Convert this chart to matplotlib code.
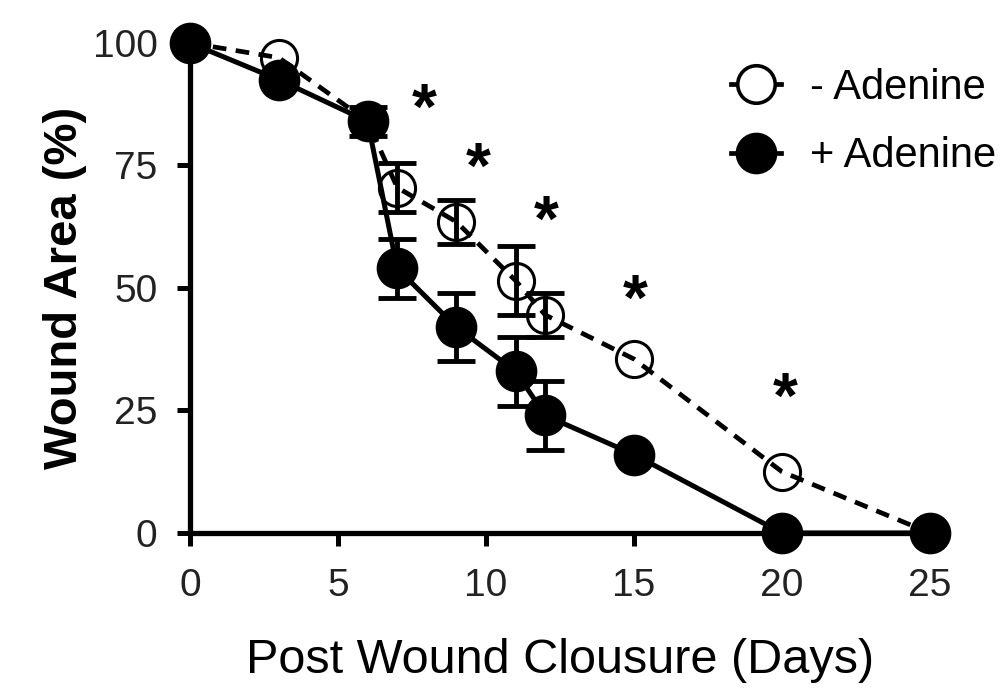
import matplotlib
matplotlib.use("Agg")
import matplotlib.pyplot as plt
from matplotlib.lines import Line2D
import numpy as np

plt.rcParams['font.family'] = ['Liberation Sans', 'DejaVu Sans']

# days after wounding
days = [0, 3, 6, 7, 9, 11, 12, 15, 20, 25]

# wound area (%), without adenine
minus_area = [100, 97, 84, 70.5, 63.5, 51.5, 44.5, 35.5, 12.5, 0]
minus_err = [0, 0, 0, 5, 4.5, 7, 4.5, 0, 0, 0]

# wound area (%), with adenine
plus_area = [100, 92.5, 84, 54, 42, 33, 24, 16, 0, 0]
plus_err = [0, 0, 3, 6, 7, 7, 7, 0, 0, 0]

# significance stars
star_x = [7.9, 9.75, 12.05, 15.05, 20.1]
star_y = [86, 74, 63, 47, 27]

fig = plt.figure(figsize=(10.07, 6.91), dpi=100)
ax = fig.add_axes([0.1887, 0.2287, 0.7348, 0.7091])

dash = (0, (2.9, 2.0))

# error bars only where there is an error
def bars(y, err, z):
    idx = [i for i, e in enumerate(err) if e > 0]
    ax.errorbar([days[i] for i in idx], [y[i] for i in idx], yerr=[err[i] for i in idx],
                fmt='none', ecolor='black', capsize=14, capthick=3.5, elinewidth=3.5,
                clip_on=False, zorder=3)

bars(minus_area, minus_err, 3)
ax.plot(days, minus_area, color='black', linestyle=dash, linewidth=3.4,
        marker='o', markersize=26, markerfacecolor='none', markeredgewidth=2.2,
        clip_on=False, zorder=3)
bars(plus_area, plus_err, 4)
ax.plot(days, plus_area, color='black', linestyle='-', linewidth=3.6,
        marker='o', markersize=29, markerfacecolor='black',
        clip_on=False, zorder=4)

for sx, sy in zip(star_x, star_y):
    ax.text(sx, sy, '*', fontsize=46, fontweight='bold', ha='center', va='center')

ax.set_xlim(0, 25)
ax.set_ylim(0, 100)
ax.set_xticks([0, 5, 10, 15, 20, 25])
ax.set_yticks([0, 25, 50, 75, 100])
ax.tick_params(labelsize=28, width=3.6, length=9.5, colors='black')
ax.tick_params(axis='x', pad=16)
ax.tick_params(axis='y', pad=14)
for lab in ax.get_xticklabels() + ax.get_yticklabels():
    lab.set_color('#222222')

for side in ['top', 'right']:
    ax.spines[side].set_visible(False)
for side in ['left', 'bottom']:
    ax.spines[side].set_linewidth(3.8)

ax.set_xlabel('Post Wound Clousure (Days)', fontsize=35, labelpad=24)
ax.set_ylabel('Wound Area (%)', fontsize=34, fontweight='bold', labelpad=4)

handles = [
    Line2D([], [], color='black', linewidth=3.4, marker='o', markersize=27,
           markerfacecolor='white', markeredgewidth=2.6),
    Line2D([], [], color='black', linewidth=3.4, marker='o', markersize=29,
           markerfacecolor='black'),
]
ax.legend(handles, ['- Adenine', '+ Adenine'], loc='upper left',
          bbox_to_anchor=(731 / 1007, 1 - 68 / 691), bbox_transform=fig.transFigure,
          frameon=False, fontsize=30, handlelength=1.2, handletextpad=0.7,
          labelspacing=0.68, borderpad=0, borderaxespad=0)

fig.savefig('out.png', dpi=100)
